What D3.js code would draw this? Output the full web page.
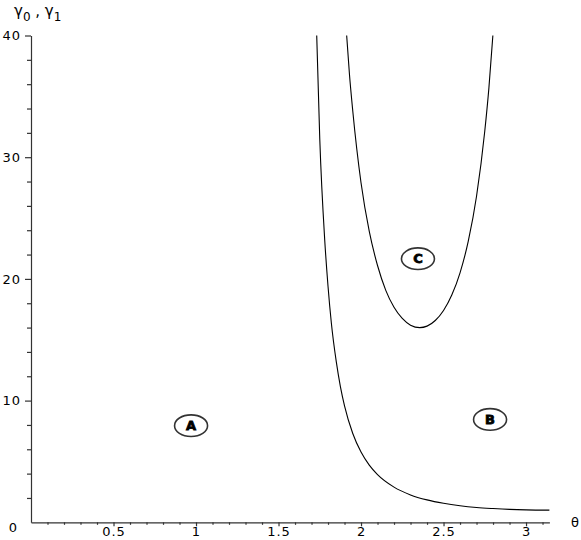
<!DOCTYPE html>
<html>
<head>
<meta charset="utf-8">
<script src="https://cdn.jsdelivr.net/npm/d3@7"></script>
<style>
  body { margin: 0; background: #fff; }
  svg { display: block; }
  text { font-family: "DejaVu Sans", sans-serif; }
</style>
</head>
<body>
<script>
// boundary curve between A and B (gamma_0)
var theta0 = [1.7315, 1.75, 1.78, 1.80, 1.82, 1.85, 1.875, 1.90, 1.95, 2.00, 2.05, 2.10, 2.20, 2.30, 2.40, 2.50, 2.60, 2.70, 2.80, 2.90, 3.00, 3.1416];
var gamma0 = [40, 31.5, 23.2, 19.4, 16.4, 13.2, 11.15, 9.57, 7.30, 5.77, 4.70, 3.92, 2.89, 2.25, 1.84, 1.56, 1.36, 1.22, 1.13, 1.06, 1.02, 1.00];

// U shaped curve around region C (gamma_1)
var theta1 = [1.913, 1.93, 1.95, 2.00, 2.05, 2.10, 2.15, 2.20, 2.25, 2.30, 2.356, 2.40, 2.45, 2.50, 2.55, 2.60, 2.65, 2.70, 2.75, 2.775, 2.799];
var gamma1 = [40, 36.8, 33.8, 27.9, 23.9, 21.1, 19.06, 17.67, 16.75, 16.20, 16.00, 16.12, 16.58, 17.40, 18.67, 20.50, 23.10, 26.79, 32.15, 35.7, 40];

// region labels
var regionNames = ["A", "B", "C"];
var regionTheta = [0.97, 2.782, 2.345];
var regionGamma = [7.94, 8.45, 21.66];

var xTicks = [0.5, 1, 1.5, 2, 2.5, 3];
var yTicks = [10, 20, 30, 40];

var width = 581, height = 540;

var svg = d3.select("body").append("svg")
    .attr("width", width)
    .attr("height", height);

var x = d3.scaleLinear().domain([0, 3.1416]).range([31, 549.4]);
var y = d3.scaleLinear().domain([0, 40]).range([522.3, 35.5]);

// x axis minor ticks
var xMinor = d3.range(1, 32).map(function(i) { return i / 10; })
    .filter(function(v) { return xTicks.indexOf(v) < 0; });
svg.append("g").attr("class", "x-minor")
    .attr("transform", "translate(0," + y(0) + ")")
    .call(d3.axisBottom(x).tickValues(xMinor).tickSize(2.5).tickSizeOuter(0).tickFormat(""))
    .call(function(g) { g.select(".domain").remove(); });

// x axis
svg.append("g").attr("class", "x-axis")
    .attr("transform", "translate(0," + y(0) + ")")
    .call(d3.axisBottom(x).tickValues(xTicks).tickSize(4).tickSizeOuter(0).tickPadding(0)
        .tickFormat(function(d) { return d; }));

// y axis minor ticks
var yMinor = d3.range(2, 40, 2).filter(function(v) { return v % 10 !== 0; });
svg.append("g").attr("class", "y-minor")
    .attr("transform", "translate(" + x(0) + ",0)")
    .call(d3.axisLeft(y).tickValues(yMinor).tickSize(4).tickSizeOuter(0).tickFormat(""))
    .call(function(g) { g.select(".domain").remove(); });

svg.append("g").attr("class", "y-axis")
    .attr("transform", "translate(" + x(0) + ",0)")
    .call(d3.axisLeft(y).tickValues(yTicks).tickSize(6).tickSizeOuter(0).tickPadding(4));

svg.selectAll(".x-axis path, .x-axis line, .y-axis path, .y-axis line, .x-minor line, .y-minor line")
    .attr("stroke", "#333")
    .attr("stroke-width", 1.2);
svg.selectAll(".x-axis text, .y-axis text")
    .attr("font-size", 13)
    .attr("letter-spacing", 1)
    .attr("font-family", "DejaVu Sans, sans-serif")
    .attr("fill", "#000");

// origin label
svg.append("text")
    .attr("x", 13).attr("y", y(0) + 5)
    .attr("text-anchor", "middle")
    .attr("dominant-baseline", "central")
    .attr("font-size", 13)
    .text("0");

// axis titles
svg.append("text")
    .attr("x", 575).attr("y", 522)
    .attr("text-anchor", "middle")
    .attr("dominant-baseline", "central")
    .attr("font-size", 13)
    .text("θ");

var title = svg.append("text")
    .attr("x", 14).attr("y", 16)
    .attr("font-size", 15);
title.append("tspan").text("γ");
title.append("tspan").attr("dy", 5).attr("font-size", 12).text("0");
title.append("tspan").attr("dy", -5).text(" , γ");
title.append("tspan").attr("dy", 5).attr("font-size", 12).text("1");

// curves
var line = d3.line()
    .x(function(d) { return x(d[0]); })
    .y(function(d) { return y(d[1]); })
    .curve(d3.curveMonotoneX);

svg.append("path")
    .datum(d3.zip(theta0, gamma0))
    .attr("fill", "none")
    .attr("stroke", "#000")
    .attr("stroke-width", 1.1)
    .attr("d", line);

svg.append("path")
    .datum(d3.zip(theta1, gamma1))
    .attr("fill", "none")
    .attr("stroke", "#000")
    .attr("stroke-width", 1.1)
    .attr("d", line);

// circled region labels
var region = svg.selectAll(".region")
    .data(d3.zip(regionNames, regionTheta, regionGamma))
    .enter().append("g")
    .attr("class", "region")
    .attr("transform", function(d) { return "translate(" + x(d[1]) + "," + y(d[2]) + ")"; });

region.append("ellipse")
    .attr("rx", 16.5)
    .attr("ry", 10.8)
    .attr("fill", "#fff")
    .attr("stroke", "#333")
    .attr("stroke-width", 1.6);

region.append("text")
    .attr("text-anchor", "middle")
    .attr("dominant-baseline", "central")
    .attr("font-size", 13)
    .attr("font-weight", "bold")
    .attr("stroke", "#000")
    .attr("stroke-width", 0.8)
    .attr("font-family", "DejaVu Sans, sans-serif")
    .text(function(d) { return d[0]; });
</script>
</body>
</html>
